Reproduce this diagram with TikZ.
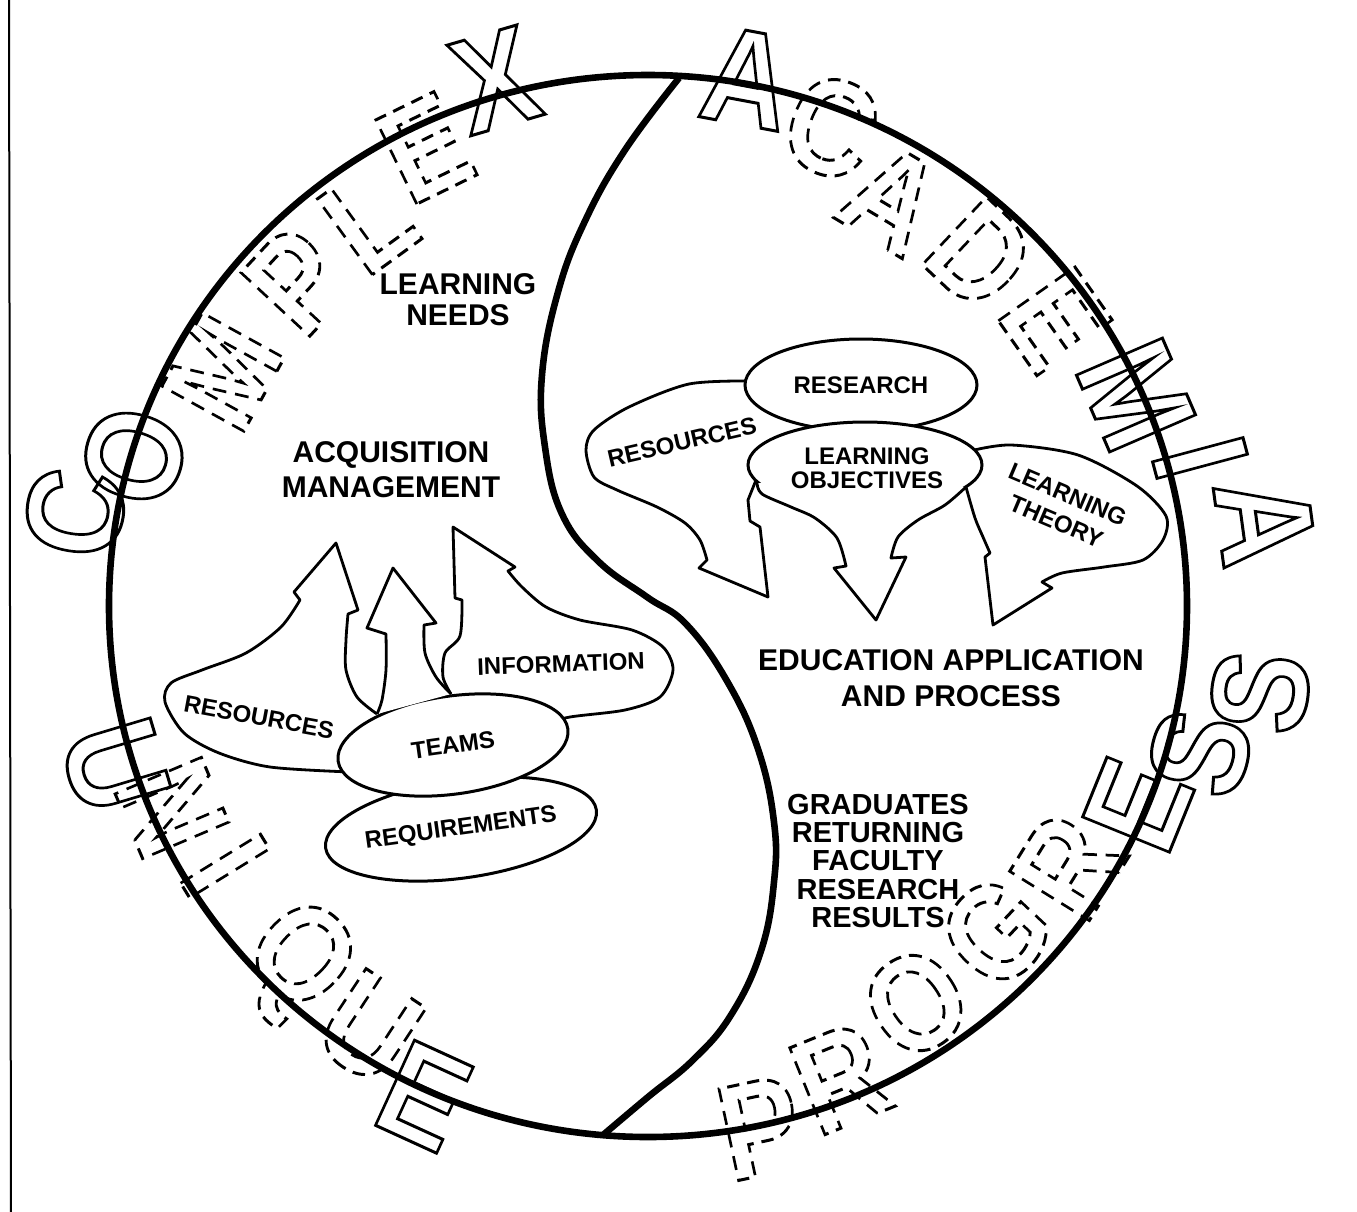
\documentclass[tikz,border=0pt]{standalone}
\usepackage{fontspec}
\setmainfont{Liberation Sans}
\usetikzlibrary{shapes.geometric}

\newcommand\strokeon[1]{\special{pdf:literal direct 1 Tr #1}}
\newcommand\strokeoff{\special{pdf:literal direct 0 Tr [] 0 d}}
\newcommand\dashd{[7 4.5]}
\newcommand\dashs{[]}
\newcommand\letterlist{C/75/513/-1/s, O/134/456/-1/s, M/223/372/-1/d, P/297/281/-1/d,
  L/368/220/-1/d, E/425/148/-1/d, X/495/80/-1/s,
  A/747/78/-1/s, C/831/127/-1/d, A/892/198/-1/d, D/980/255/-1/d, E/1055/320/-1/d,
  M/1136/395/-1/s, I/1200/458/-1/s, A/1265/522/-1/s,
  U/115/766/1/s, N/172/808/1/d, I/225/866/1/d, Q/295/963/1/d, U/370/1028/1/d, E/424/1096/1/s,
  P/760/1128/1/d, R/840/1078/1/d, O/916/1003/1/d, G/996/932/1/d, R/1068/866/1/d,
  E/1138/805/1/s, S/1200/753/1/s, S/1260/692/1/s}

\begin{document}
\begin{tikzpicture}[x=0.5pt, y=-0.5pt,
  rim/.style={line width=3.3pt},
  blob/.style={draw, fill=white, line width=1.4pt, line join=round},
  bubble/.style={ellipse, draw, fill=white, line width=1.5pt, inner sep=0pt, align=center,
    font=\fontsize{12}{12}\selectfont\bfseries},
  tag/.style={font=\fontsize{12}{12}\selectfont\bfseries, align=center, inner sep=0pt},
  head/.style={font=\fontsize{15}{#1}\selectfont\bfseries, align=center, inner sep=0pt},
  head/.default=17pt,
  bigletter/.style={font=\fontsize{68}{68}\selectfont\bfseries, inner sep=0pt, xscale=0.88,
    execute at begin node={\strokeon{1.5 w \csname dash#1\endcsname 0 d}},
    execute at end node=\strokeoff}]

  \useasboundingbox (0,0) rectangle (1357,1212);
  \draw[line width=1pt] (9,0) -- (11,1212);

  % ring and the S line
  \draw[rim] (648,606) ellipse [x radius=539, y radius=531];
  \draw[rim] plot[smooth, tension=0.7] coordinates {(679,78) (625,150) (585,221) (558,292)
    (542,375) (545,447) (562,514) (598,561) (647,597) (686,624) (727,681) (758,749)
    (774,822) (774,882) (761,951) (731,1015) (693,1060) (648,1097) (603,1135)};

  % outlined words round the ring
  \foreach \ch/\lx/\ly/\dir/\sty [count=\i] in \letterlist {
    \pgfmathsetmacro\rot{atan2(606-\ly,\lx-648)+90*\dir}
    \node[rotate=\rot, bigletter=\sty] (letter\i) at (\lx,\ly) {\ch};
  }

  % acquisition side
  \node[bubble, rotate=8, minimum width=115pt, minimum height=49pt] (req) at (461,829) {REQUIREMENTS};
  \path[blob] plot[smooth] coordinates {(377,714) (357,697) (346,670) (346,640) (348,614)}
    -- (358,610) -- (336,543) -- (294,592) -- (300,600)
    -- plot[smooth] coordinates {(300,600) (281,627) (246,653) (202,670) (171,683) (165,702)
      (184,733) (219,753) (270,767) (350,772)};
  \path[blob] plot[smooth] coordinates {(451,694) (443,677) (445,653) (460,636) (462,600)}
    -- (455,598) -- (453,527) -- (515,567) -- (508,571)
    -- plot[smooth] coordinates {(508,571) (522,587) (546,607) (580,620) (632,630) (663,647)
      (673,670) (660,697) (625,710) (570,717) (540,725)};
  \node[bubble, rotate=8, minimum width=116pt, minimum height=49pt] (teams) at (453,745) {TEAMS};
  \path[blob] plot[smooth] coordinates {(377,714) (382,700) (386,670) (386,634)}
    -- (367,628) -- (393,568) -- (436,623) -- (424,625)
    -- plot[smooth] coordinates {(424,625) (425,653) (436,677) (451,694)};
  \node[tag, rotate=-10.5] (resL) at (259,717) {RESOURCES};
  \node[tag, rotate=2] (info) at (561,664) {INFORMATION};

  % education side
  \path[blob] plot[smooth] coordinates {(752,381) (689,384) (629,407) (594,430) (586,450)
      (594,477) (617,490) (657,507) (685,523) (700,540) (707,560)}
    -- (699,568) -- (768,597) -- (760,527) -- (750,521) -- (748,500) -- (756,480);
  \node[bubble, minimum width=116pt, minimum height=46pt] (research) at (861,385) {RESEARCH};
  \path[blob] plot[smooth] coordinates {(966,487) (975,518) (983,537) (990,553)}
    -- (985,557) -- (993,625) -- (1052,588) -- (1042,582)
    -- plot[smooth] coordinates {(1042,582) (1062,573) (1104,567) (1143,560) (1163,540)
      (1166,516) (1137,486) (1078,455) (1011,445) (970,451)};
  \node[bubble, minimum width=117pt, minimum height=43pt] (lobj) at (865,465) {};
  \path[blob] plot[smooth] coordinates {(757,483) (762,494) (791,507) (815,518) (837,538) (846,566)}
    -- (834,568) -- (876,620) -- (906,557) -- (891,558)
    -- plot[smooth] coordinates {(891,558) (898,537) (918,520) (945,505) (966,487)};
  \node[tag] (lobjtext) at (867,468) {LEARNING\\OBJECTIVES};
  \node[tag, rotate=13] (resR) at (682,442) {RESOURCES};
  \node[tag, rotate=-23, font=\fontsize{12}{14.5}\selectfont\bfseries] (theory) at (1062,508) {LEARNING\\THEORY};

  % headings
  \node[head=15.5pt] (needs) at (458,300) {LEARNING\\NEEDS};
  \node[head=17.5pt] (acq) at (391,470) {ACQUISITION\\MANAGEMENT};
  \node[head=18pt] (edu) at (951,678) {EDUCATION APPLICATION\\AND PROCESS};
  \node[head, font=\fontsize{14.5}{14.1}\selectfont\bfseries] (grads) at (878,861)
    {GRADUATES\\RETURNING\\FACULTY\\RESEARCH\\RESULTS};
\end{tikzpicture}
\end{document}
